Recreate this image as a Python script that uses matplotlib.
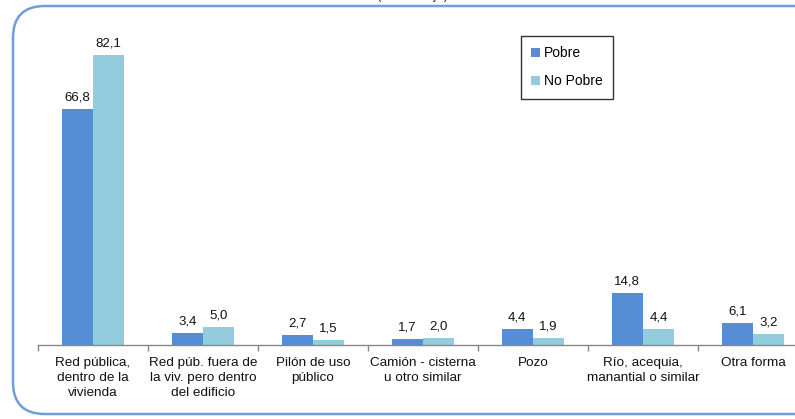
import matplotlib
matplotlib.use("Agg")
import matplotlib.pyplot as plt
from matplotlib.patches import FancyBboxPatch, Patch
import numpy as np

plt.rcParams['font.family'] = ['Liberation Sans', 'DejaVu Sans']

categories = ["Red pública,\ndentro de la\nvivienda",
              "Red púb. fuera de\nla viv. pero dentro\ndel edificio",
              "Pilón de uso\npúblico",
              "Camión - cisterna\nu otro similar",
              "Pozo",
              "Río, acequia,\nmanantial o similar",
              "Otra forma"]
pobre = [66.8, 3.4, 2.7, 1.7, 4.4, 14.8, 6.1]
no_pobre = [82.1, 5.0, 1.5, 2.0, 1.9, 4.4, 3.2]
series_names = ["Pobre", "No Pobre"]
colors = ["#558ED5", "#93CDDD"]

W, H = 795, 419
fig = plt.figure(figsize=(W / 100, H / 100), dpi=100)

# rounded frame
frame = FancyBboxPatch((13 / W, 1 - 414 / H), (840 - 13) / W, (414 - 6) / H,
                       boxstyle="round,pad=0,rounding_size=0.04",
                       transform=fig.transFigure, facecolor="white",
                       edgecolor="#6F9ED8", linewidth=1.8, zorder=-5,
                       mutation_aspect=W / H)
fig.patches.append(frame)

fig.text(412 / W, 1 + 1.5 / H, "(Porcentaje)", ha="center", va="baseline",
         fontsize=9.5, color="#333333")

ax_left, ax_right = 38, 808
ax_bottom, ax_top = 345, 27
ax = fig.add_axes([ax_left / W, 1 - ax_bottom / H, (ax_right - ax_left) / W,
                   (ax_bottom - ax_top) / H])
ax.set_facecolor("none")
ax.set_zorder(2)

x = np.arange(len(categories))
bw = 0.285
b1 = ax.bar(x - bw / 2, pobre, bw, color=colors[0], label=series_names[0])
b2 = ax.bar(x + bw / 2, no_pobre, bw, color=colors[1], label=series_names[1])

for bars, vals in ((b1, pobre), (b2, no_pobre)):
    for r, v in zip(bars, vals):
        ax.annotate(f"{v:.1f}".replace(".", ","),
                    (r.get_x() + r.get_width() / 2, r.get_height()),
                    xytext=(0, 4), textcoords="offset points",
                    ha="center", va="bottom", fontsize=9.5, color="#111111")

ax.set_xlim(-0.5, len(categories) - 0.5)
ax.set_ylim(0, 90)
for s in ["top", "right", "left"]:
    ax.spines[s].set_visible(False)
ax.spines["bottom"].set_color("#888888")
ax.spines["bottom"].set_linewidth(1.0)
ax.set_yticks([])
ax.set_xticks(x)
ax.set_xticklabels(categories, fontsize=9.7, color="#111111", linespacing=1.35)
ax.tick_params(axis="x", which="major", length=0, pad=8.5)
ax.set_xticks(np.arange(-0.5, len(categories)), minor=True)
ax.tick_params(axis="x", which="minor", length=4, color="#888888", width=1)

handles = [Patch(facecolor=c, edgecolor="none") for c in colors]
leg = fig.legend(handles, series_names, loc="upper left",
                 bbox_to_anchor=(521 / W, 1 - 36 / H), fontsize=10,
                 frameon=True, fancybox=False, edgecolor="black",
                 handlelength=0.6, handleheight=0.6, handletextpad=0.3,
                 labelspacing=1.0, borderpad=0.75, borderaxespad=0,
                 shadow=False)
leg.get_frame().set_linewidth(1.0)
leg.set_zorder(5)

fig.savefig("out.png", dpi=100)
